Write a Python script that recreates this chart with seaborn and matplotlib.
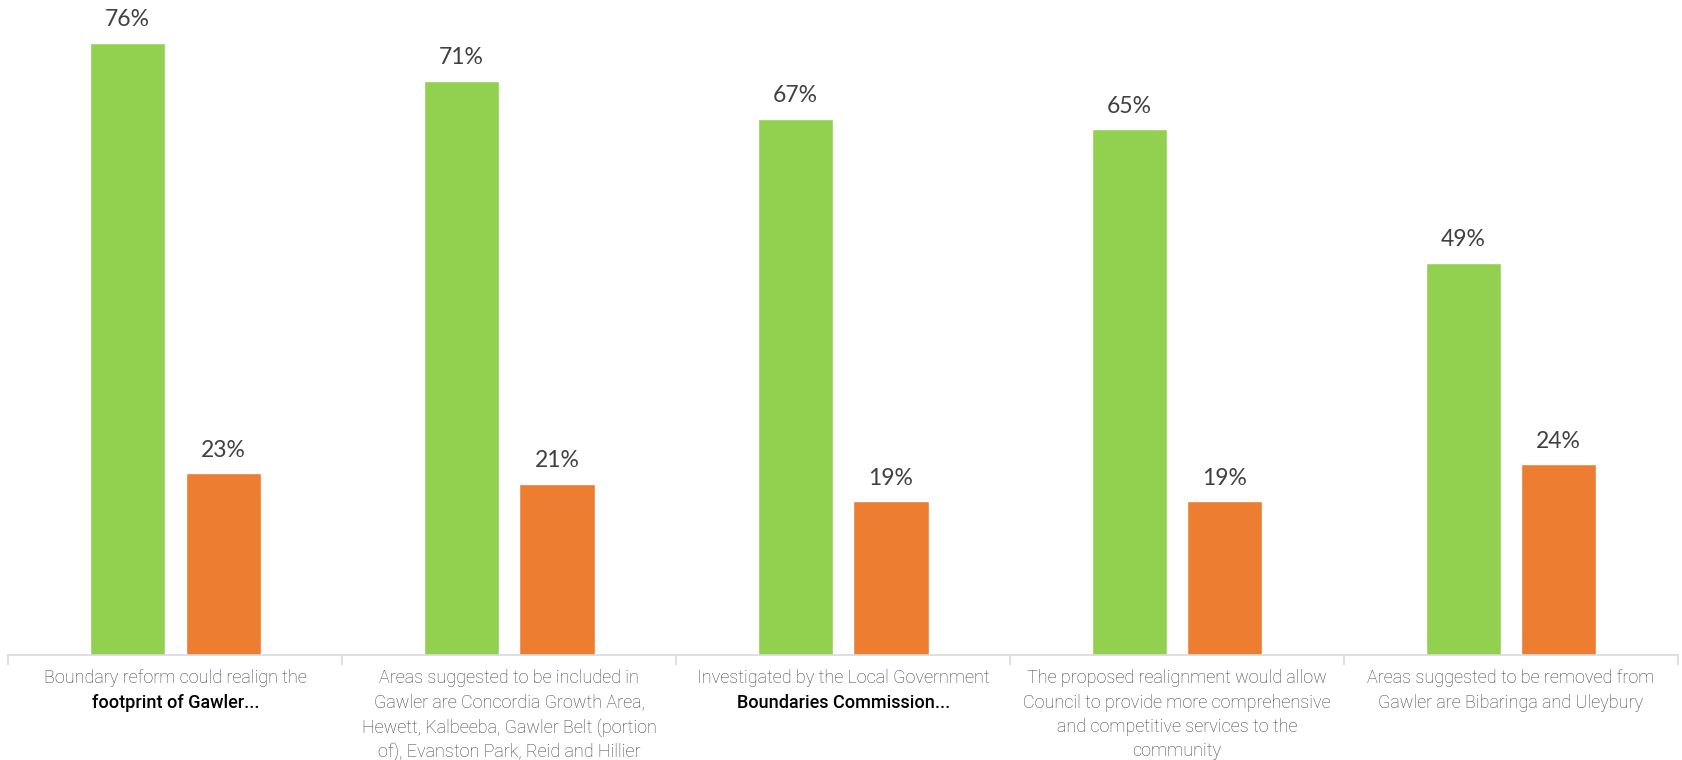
import matplotlib
matplotlib.use("Agg")
import matplotlib.pyplot as plt
import matplotlib.transforms as mtransforms
import seaborn as sns
import pandas as pd
import numpy as np

categories = [
    "Boundary reform could realign the\nfootprint of Gawler...",
    "Areas suggested to be included in\nGawler are Concordia Growth Area,\nHewett, Kalbeeba, Gawler Belt (portion\nof), Evanston Park, Reid and Hillier",
    "Investigated by the Local Government\nBoundaries Commission...",
    "The proposed realignment would allow\nCouncil to provide more comprehensive\nand competitive services to the\ncommunity",
    "Areas suggested to be removed from\nGawler are Bibaringa and Uleybury",
]
# lines shown darker in the original labels
bold_lines = [1, None, 1, None, None]
series_names = ["Agree", "Disagree"]
agree = [76.0, 71.3, 66.6, 65.3, 48.7]
disagree = [22.6, 21.3, 19.1, 19.1, 23.7]
colors = ["#92d050", "#ed7d31"]

df = pd.DataFrame({
    "cat": list(range(len(categories))) * 2,
    "series": [series_names[0]] * len(agree) + [series_names[1]] * len(disagree),
    "value": agree + disagree,
})

sns.set_theme(style="white")
plt.rcParams["font.family"] = ["Lato", "DejaVu Sans"]

fig = plt.figure(figsize=(16.83, 7.6), dpi=100)
ax = fig.add_axes([0.005, 0.138, 0.992, 0.848])

sns.barplot(data=df, x="cat", y="value", hue="series", palette=colors,
            width=0.572, gap=0.213, dodge=True, ax=ax, legend=False,
            saturation=1)

for cont in ax.containers:
    ax.bar_label(cont, fmt="{:.0f}%", padding=9, fontsize=16.5, color="#404040")

ax.set_ylim(0, 80)
ax.set_xlim(-0.5, len(categories) - 0.5)
ax.set_yticks([])
ax.set_ylabel("")
ax.set_xlabel("")
for s in ["top", "right", "left"]:
    ax.spines[s].set_visible(False)
ax.spines["bottom"].set_color("#d9d9d9")
ax.spines["bottom"].set_linewidth(1.2)

ax.set_xticks(np.arange(-0.5, len(categories), 1.0))
ax.set_xticklabels([])
ax.tick_params(axis="x", direction="out", length=7, width=1.2, color="#d9d9d9", bottom=True)

trans = mtransforms.blended_transform_factory(ax.transData, ax.transAxes)
lab_font = ["Roboto", "DejaVu Sans"]
for i, lab in enumerate(categories):
    for j, line in enumerate(lab.split("\n")):
        dark = bold_lines[i] == j
        ax.text(i, -0.022 - j * 0.0378, line, transform=trans, ha="center", va="top",
                fontsize=13, family=lab_font,
                color="#000000" if dark else "#404040",
                fontweight="medium" if dark else "light")

fig.savefig("out.png", dpi=100)
